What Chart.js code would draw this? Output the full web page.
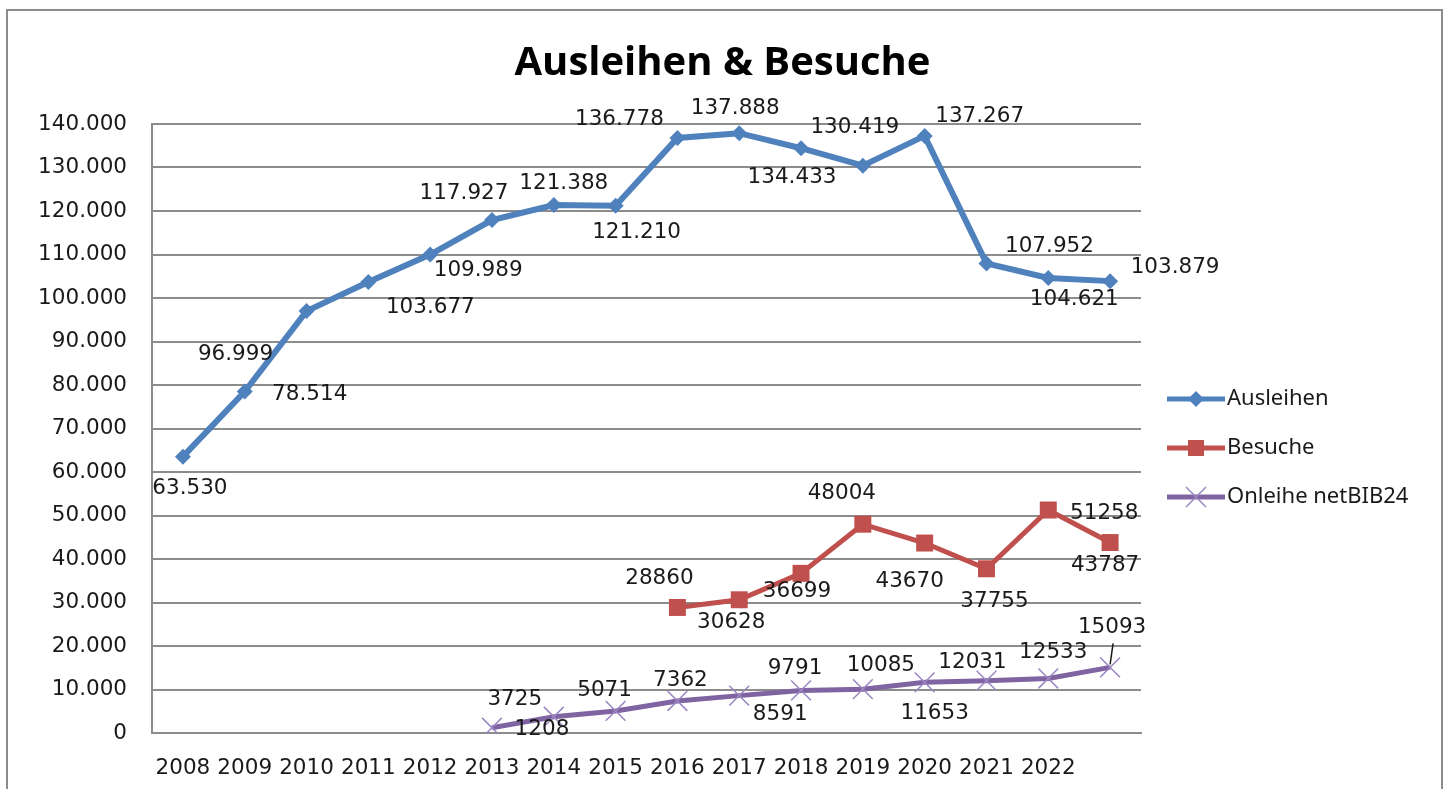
<!DOCTYPE html>
<html>
<head>
<meta charset="utf-8">
<title>Ausleihen &amp; Besuche</title>
<script src="https://cdn.jsdelivr.net/npm/chart.js@4.4.1/dist/chart.umd.min.js"></script>
<style>
  html, body { margin: 0; padding: 0; background: #fff; }
  #wrap { position: relative; width: 1445px; height: 789px; overflow: hidden; }
  #frame {
    position: absolute; left: 6px; top: 9px; width: 1437px; height: 820px;
    border: 2px solid #8c8c8c; box-sizing: border-box; pointer-events: none;
  }
</style>
</head>
<body>
<div id="wrap">
  <canvas id="chart"></canvas>
  <div id="frame"></div>
</div>
<script>
// Data (last category has no tick label)
const categories = ["2008", "2009", "2010", "2011", "2012", "2013", "2014", "2015",
  "2016", "2017", "2018", "2019", "2020", "2021", "2022", ""];

const ausleihen = [63530, 78514, 96999, 103677, 109989, 117927, 121388, 121210,
  136778, 137888, 134433, 130419, 137267, 107952, 104621, 103879];

const besuche = [null, null, null, null, null, null, null, null,
  28860, 30628, 36699, 48004, 43670, 37755, 51258, 43787];

const onleihe = [null, null, null, null, null, 1208, 3725, 5071,
  7362, 8591, 9791, 10085, 11653, 12031, 12533, 15093];

// where each data label sits relative to its point (dx, dy in px)
const labelOffsets = [
  [[7, 32], [65, 3], [-71, 43], [62, 25], [48, 16], [-28, -27], [10, -22], [21, 27],
   [-58, -19], [-4, -25], [-9, 29], [-8, -38], [55, -19], [63, -17], [26, 22], [65, -14]],
  [null, null, null, null, null, null, null, null,
   [-18, -29], [-8, 23], [-4, 18], [-21, -31], [-15, 38], [8, 33], [56, 3], [-5, 23]],
  [null, null, null, null, null, [50, 2], [-39, -17], [-11, -21],
   [3, -21], [41, 19], [-6, -22], [18, -24], [10, 31], [-14, -18], [5, -26], [2, -40]],
];

function dotThousands(v) {
  return String(v).replace(/\B(?=(\d{3})+(?!\d))/g, ".");
}

const labelFormats = [dotThousands, String, String];

const legendItems = [
  { text: "Ausleihen", color: "#4F81BD", marker: "diamond" },
  { text: "Besuche", color: "#C0504D", marker: "square" },
  { text: "Onleihe netBIB24", color: "#8064A2", marker: "cross" },
];

function drawMarker(ctx, type, x, y, color) {
  ctx.save();
  ctx.fillStyle = color;
  ctx.strokeStyle = color;
  if (type === "diamond") {
    ctx.beginPath();
    ctx.moveTo(x, y - 8); ctx.lineTo(x + 8, y); ctx.lineTo(x, y + 8); ctx.lineTo(x - 8, y);
    ctx.closePath();
    ctx.fill();
  } else if (type === "square") {
    ctx.fillRect(x - 8, y - 8, 16, 16);
  } else {
    ctx.strokeStyle = "#9b86c2";
    ctx.lineWidth = 1.5;
    ctx.beginPath();
    ctx.moveTo(x - 10, y - 10); ctx.lineTo(x + 10, y + 10);
    ctx.moveTo(x + 10, y - 10); ctx.lineTo(x - 10, y + 10);
    ctx.stroke();
  }
  ctx.restore();
}

const labelsAndLegend = {
  id: "labelsAndLegend",
  afterDatasetsDraw(chart) {
    const ctx = chart.ctx;
    ctx.save();
    ctx.font = "21.5px 'DejaVu Sans'";
    ctx.fillStyle = "#1a1a1a";
    ctx.textAlign = "center";
    ctx.textBaseline = "middle";
    chart.data.datasets.forEach((ds, i) => {
      const meta = chart.getDatasetMeta(i);
      meta.data.forEach((pt, j) => {
        const v = ds.data[j];
        const off = labelOffsets[i][j];
        if (v == null || !off) return;
        ctx.fillText(labelFormats[i](v), pt.x + off[0], pt.y + off[1]);
      });
    });

    // leader line for the last Onleihe label
    const last = chart.getDatasetMeta(2).data[15];
    ctx.strokeStyle = "#1a1a1a";
    ctx.lineWidth = 1.5;
    ctx.beginPath();
    ctx.moveTo(last.x + 3, last.y - 24);
    ctx.lineTo(last.x, last.y - 3);
    ctx.stroke();

    // legend on the right
    ctx.font = "22px 'Noto Sans'";
    ctx.textAlign = "left";
    legendItems.forEach((item, k) => {
      const y = 399 + k * 49;
      ctx.strokeStyle = item.color;
      ctx.lineWidth = 5;
      ctx.beginPath();
      ctx.moveTo(1167, y);
      ctx.lineTo(1225, y);
      ctx.stroke();
      drawMarker(ctx, item.marker, 1196, y, item.color);
      ctx.fillStyle = "#1a1a1a";
      ctx.fillText(item.text, 1227, y);
    });
    ctx.restore();
  },
};

new Chart(document.getElementById("chart"), {
  type: "line",
  data: {
    labels: categories,
    datasets: [
      {
        label: "Ausleihen",
        data: ausleihen,
        borderColor: "#4F81BD",
        backgroundColor: "#4F81BD",
        borderWidth: 6,
        pointStyle: "rectRot",
        pointRadius: 8,
        pointBorderWidth: 0,
        tension: 0,
      },
      {
        label: "Besuche",
        data: besuche,
        borderColor: "#C0504D",
        backgroundColor: "#C0504D",
        borderWidth: 5,
        pointStyle: "rect",
        pointRadius: 12,
        pointBorderWidth: 0,
        tension: 0,
      },
      {
        label: "Onleihe netBIB24",
        data: onleihe,
        borderColor: "#8064A2",
        backgroundColor: "#8064A2",
        borderWidth: 5,
        pointStyle: "crossRot",
        pointRadius: 14,
        pointBorderColor: "#9b86c2",
        pointBorderWidth: 1.5,
        tension: 0,
      },
    ],
  },
  options: {
    responsive: true,
    maintainAspectRatio: false,
    animation: false,
    layout: { padding: 0 },
    plugins: {
      legend: { display: false },
      tooltip: { enabled: false },
      title: {
        display: true,
        text: "Ausleihen & Besuche",
        color: "#000",
        font: { family: "'Open Sans', sans-serif", size: 40, weight: "bold" },
        padding: { top: 40, bottom: 36 },
      },
    },
    scales: {
      x: {
        offset: true,
        grid: { display: false, drawTicks: false },
        border: { display: true, color: "#8c8c8c", width: 2 },
        ticks: {
          autoSkip: false,
          maxRotation: 0,
          padding: 23,
          color: "#1a1a1a",
          font: { family: "'DejaVu Sans', sans-serif", size: 21.5 },
        },
        afterFit: (scale) => { scale.height = 56; },
      },
      y: {
        min: 0,
        max: 140000,
        grid: { color: "#8c8c8c", lineWidth: 2, drawTicks: false },
        border: { display: true, color: "#8c8c8c", width: 2 },
        ticks: {
          stepSize: 10000,
          padding: 25,
          color: "#1a1a1a",
          font: { family: "'DejaVu Sans', sans-serif", size: 21.5 },
          callback: (v) => dotThousands(v),
        },
        afterFit: (scale) => { scale.width = 152; },
      },
      // empty right-hand axis that only reserves room for the legend
      legendSpace: {
        position: "right",
        grid: { display: false, drawTicks: false },
        border: { display: false },
        ticks: { display: false },
        afterFit: (scale) => { scale.width = 304; },
      },
    },
  },
  plugins: [labelsAndLegend],
});
</script>
</body>
</html>
